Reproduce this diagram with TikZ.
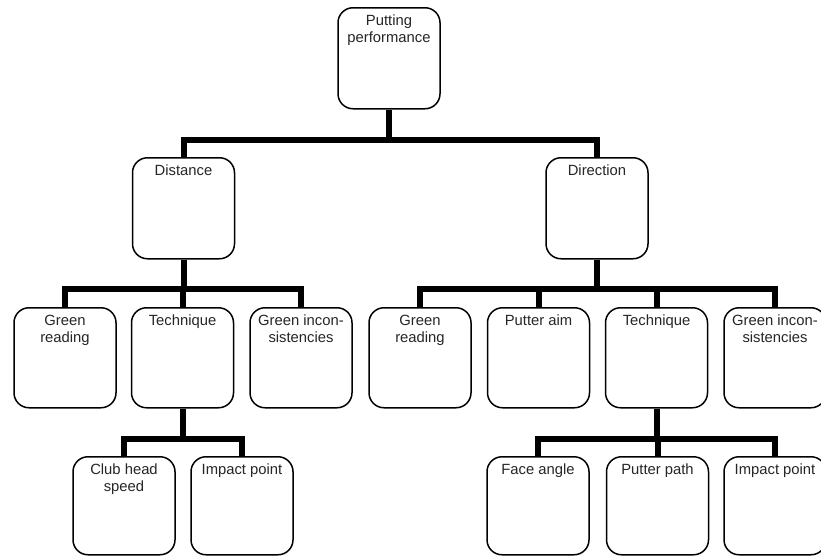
\documentclass[tikz,border=0pt]{standalone}
\usepackage{fontspec}
\setmainfont{Liberation Sans}
\begin{document}
\begin{tikzpicture}[x=1pt,y=-1pt,
  box/.style={draw, line width=1.5pt, rounded corners=15pt, fill=white,
    minimum width=102pt, minimum height=100pt, inner sep=0pt, anchor=north,
    label={[txt,anchor=north,yshift=-8pt]north:{#1}}},
  txt/.style={font=\fontsize{14.8}{17}\selectfont, text=black!85, align=center, inner sep=0pt},
  conn/.style={line width=6pt, line join=miter}]
\useasboundingbox (0,0) rectangle (821,555);
\clip (0,0) rectangle (821,555);
% top levels
\node[box={Putting\\performance}, minimum height=101pt] (top) at (389,7) {};
\node[box={Distance}, minimum height=101pt] (dist) at (183.5,157) {};
\node[box={Direction}, minimum height=101pt] (dir) at (597,157) {};
% row 3 left
\node[box={Green\\reading}] (dgr) at (65,307) {};
\node[box={Technique}] (dte) at (182.5,307) {};
\node[box={Green incon-\\sistencies}] (dgi) at (301,307) {};
% row 3 right
\node[box={Green\\reading}] (rgr) at (420,307) {};
\node[box={Putter aim}] (rpa) at (538.5,307) {};
\node[box={Technique}] (rte) at (656.5,307) {};
\node[box={Green incon-\\sistencies}] (rgi) at (775,307) {};
% row 4
\node[box={Club head\\speed}, minimum height=98pt] (dcs) at (124,456) {};
\node[box={Impact point}, minimum height=98pt] (dip) at (242,456) {};
\node[box={Face angle}, minimum height=98pt] (rfa) at (538,456) {};
\node[box={Putter path}, minimum height=98pt] (rpp) at (657.5,456) {};
\node[box={Impact point}, minimum height=98pt] (rip) at (775,456) {};
% junctions
\path (top.south) ++(0,30) coordinate (j1);
\path (dist.south) ++(0,29) coordinate (j2);
\path (dir.south) ++(0,29) coordinate (j2r);
\path (dte.south) ++(0,30) coordinate (j3);
\path (rte.south) ++(0,30) coordinate (j3r);
% connectors
\draw[conn] (top.south) -- (j1);
\draw[conn] (dist.north) |- (j1) -| (dir.north);
\draw[conn] (dist.south) -- (j2);
\draw[conn] (dgr.north) |- (j2) -| (dgi.north);
\draw[conn] (dte.north) -- (dte.north |- j2);
\draw[conn] (dir.south) -- (j2r);
\draw[conn] (rgr.north) |- (j2r) -| (rgi.north);
\draw[conn] (rpa.north) -- (rpa.north |- j2r);
\draw[conn] (rte.north) -- (rte.north |- j2r);
\draw[conn] (dte.south) -- (j3);
\draw[conn] (dcs.north) |- (j3) -| (dip.north);
\draw[conn] (rte.south) -- (j3r);
\draw[conn] (rfa.north) |- (j3r) -| (rip.north);
\draw[conn] (rpp.north) -- (rpp.north |- j3r);
\end{tikzpicture}
\end{document}
